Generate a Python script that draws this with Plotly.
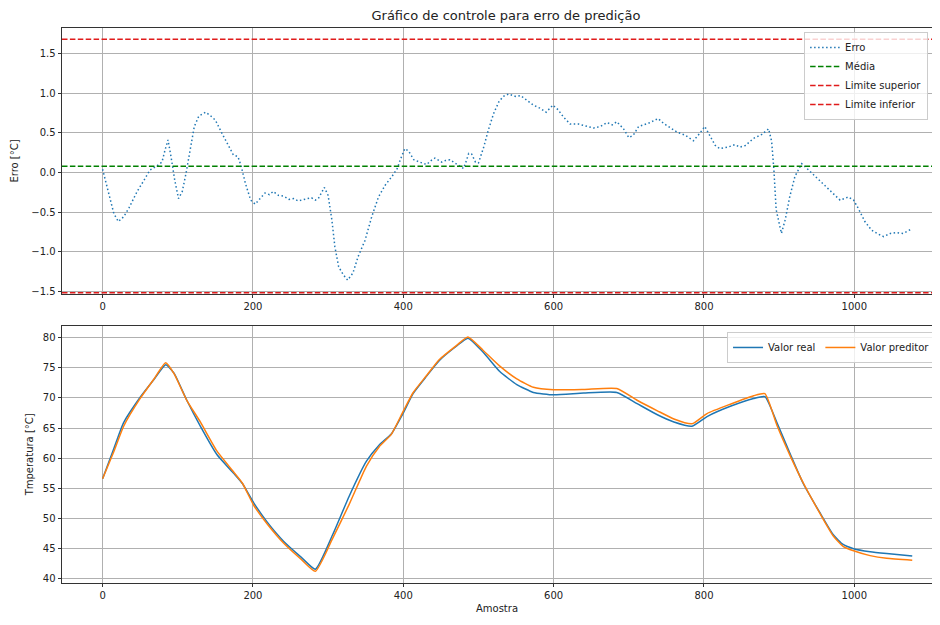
import plotly.graph_objects as go
from plotly.subplots import make_subplots

# ---------------- data ----------------
amostra_erro = [0, 8, 15, 21, 28, 35, 46, 55, 63, 72, 79, 83, 87, 91, 96, 101, 106, 111,
                117, 122, 128, 137, 143, 150, 159, 168, 174, 180, 184, 190, 197, 203, 210,
                216, 222, 227, 234, 241, 248, 254, 260, 267, 273, 278, 283, 287, 291, 295,
                300, 305, 309, 314, 320, 326, 333, 340, 349, 358, 367, 376, 385, 392, 396,
                402, 407, 414, 422, 431, 437, 442, 451, 456, 462, 468, 473, 480, 484, 487,
                491, 496, 500, 507, 513, 520, 527, 533, 540, 549, 556, 564, 573, 582, 590,
                599, 606, 613, 622, 633, 644, 653, 662, 671, 678, 684, 693, 700, 706, 713,
                726, 739, 746, 755, 764, 775, 786, 795, 801, 808, 815, 821, 832, 841, 848,
                855, 866, 877, 886, 890, 893, 896, 903, 908, 914, 921, 930, 937, 948, 959,
                970, 981, 987, 992, 999, 1005, 1014, 1023, 1032, 1039, 1048, 1056, 1065, 1077]
erro = [0.04, -0.26, -0.52, -0.62, -0.56, -0.45, -0.24, -0.10, 0.03, 0.08, 0.13, 0.28, 0.41,
        0.20, -0.10, -0.33, -0.24, -0.01, 0.32, 0.58, 0.71, 0.76, 0.72, 0.66, 0.49, 0.32, 0.22,
        0.20, 0.09, -0.14, -0.35, -0.40, -0.32, -0.26, -0.28, -0.24, -0.29, -0.30, -0.34, -0.33,
        -0.36, -0.34, -0.33, -0.32, -0.35, -0.33, -0.25, -0.19, -0.29, -0.60, -0.94, -1.19,
        -1.29, -1.36, -1.27, -1.06, -0.86, -0.56, -0.31, -0.16, -0.05, 0.05, 0.16, 0.30, 0.27,
        0.16, 0.13, 0.10, 0.15, 0.18, 0.13, 0.15, 0.16, 0.12, 0.09, 0.05, 0.15, 0.24, 0.23,
        0.13, 0.12, 0.32, 0.53, 0.74, 0.89, 0.96, 0.99, 0.96, 0.97, 0.91, 0.85, 0.81, 0.76,
        0.85, 0.79, 0.70, 0.61, 0.61, 0.58, 0.56, 0.58, 0.63, 0.60, 0.64, 0.55, 0.44, 0.47,
        0.58, 0.62, 0.68, 0.62, 0.56, 0.51, 0.47, 0.40, 0.50, 0.58, 0.46, 0.34, 0.30, 0.32,
        0.35, 0.32, 0.34, 0.43, 0.48, 0.55, 0.39, 0.03, -0.47, -0.77, -0.60, -0.31, -0.05,
        0.11, 0.05, -0.05, -0.14, -0.24, -0.35, -0.33, -0.31, -0.35, -0.45, -0.62, -0.73,
        -0.78, -0.81, -0.77, -0.76, -0.77, -0.71]

media = 0.078
limite_superior = 1.68
limite_inferior = -1.52

amostra_temp = [0, 15, 28, 50, 68, 84, 95, 112, 130, 152, 175, 186, 201, 219, 241, 264, 283,
                306, 328, 351, 368, 384, 400, 413, 431, 448, 471, 486, 506, 528, 551, 573, 600,
                640, 684, 711, 738, 760, 784, 804, 835, 866, 881, 897, 915, 932, 954, 972, 985,
                999, 1021, 1043, 1077]
valor_real = [56.6, 61.6, 65.9, 70.1, 73.0, 75.5, 74.1, 69.6, 65.3, 60.6, 57.4, 55.8, 52.6,
              49.4, 46.2, 43.6, 41.6, 47.3, 53.7, 59.5, 62.2, 64.0, 67.5, 70.7, 73.6, 76.2,
              78.6, 79.9, 77.6, 74.4, 72.2, 70.9, 70.5, 70.8, 70.9, 69.05, 67.2, 66.0, 65.3,
              66.9, 68.6, 69.9, 70.2, 65.9, 60.6, 55.8, 51.0, 47.3, 45.7, 45.0, 44.5, 44.2, 43.8]
valor_predito = [56.6, 61.1, 65.3, 69.9, 73.05, 75.8, 74.0, 69.6, 66.0, 61.2, 57.6, 55.85, 52.2,
                 49.1, 45.9, 43.25, 41.25, 46.7, 52.35, 58.7, 61.9, 63.95, 67.8, 70.85, 73.7,
                 76.35, 78.7, 80.1, 77.9, 75.3, 73.15, 71.75, 71.35, 71.4, 71.55, 69.6, 67.85,
                 66.5, 65.7, 67.4, 68.95, 70.35, 70.7, 65.45, 60.3, 55.9, 50.9, 47.1, 45.4, 44.65,
                 43.85, 43.4, 43.1]

x_ticks = [0, 200, 400, 600, 800, 1000]
y1_ticks = [-1.5, -1.0, -0.5, 0.0, 0.5, 1.0, 1.5]
y2_ticks = [40, 45, 50, 55, 60, 65, 70, 75, 80]

# ---------------- figure ----------------
W, H = 924, 609
fig = make_subplots(rows=2, cols=1)

DOT = "1.5px,2.5px"
DASH = "5.5px,2.4px"

fig.add_trace(go.Scatter(x=amostra_erro, y=erro, mode="lines", name="Erro",
                         line=dict(color="#1f77b4", width=1.5, dash=DOT),
                         legend="legend"), row=1, col=1)

for val, nm, col in [(media, "Média", "#008000"),
                     (limite_superior, "Limite superior", "#e01b1b"),
                     (limite_inferior, "Limite inferior", "#e01b1b")]:
    fig.add_hline(y=val, row=1, col=1, line=dict(color=col, width=1.5, dash=DASH),
                  showlegend=True, name=nm, legend="legend", layer="above")

fig.add_trace(go.Scatter(x=amostra_temp, y=valor_real, mode="lines", name="Valor real",
                         line=dict(color="#1f77b4", width=1.5, shape="spline", smoothing=0.5),
                         legend="legend2"), row=2, col=1)
fig.add_trace(go.Scatter(x=amostra_temp, y=valor_predito, mode="lines", name="Valor preditor",
                         line=dict(color="#ff7f0e", width=1.5, shape="spline", smoothing=0.5),
                         legend="legend2"), row=2, col=1)

axis_common = dict(showgrid=True, gridcolor="#b0b0b0", gridwidth=0.8, zeroline=False,
                   showline=True, linecolor="#333333", linewidth=0.8,
                   ticks="outside", ticklen=3.5, tickwidth=0.8, tickcolor="#333333",
                   tickfont=dict(size=10, color="#222222"), automargin=False)

fig.update_layout(
    width=W, height=H,
    margin=dict(l=54, r=0, t=20, b=34, autoexpand=False),
    plot_bgcolor="white", paper_bgcolor="white",
    font=dict(family="DejaVu Sans", size=10, color="#222222"),
    title=dict(text="Gráfico de controle para erro de predição", x=0.5103, xref="paper",
               xanchor="center", y=1 - 7.5 / H, yref="container", yanchor="middle",
               font=dict(size=13, color="#222222")),
    xaxis=dict(domain=[0, 1], range=[-54, 1103.3], tickvals=x_ticks, mirror=True, **axis_common),
    yaxis=dict(domain=[0.5207, 1], range=[-1.535, 1.823], tickvals=y1_ticks, tickformat=".1f",
               title=dict(text="Erro [°C]", standoff=10, font=dict(size=10)), **axis_common),
    xaxis2=dict(domain=[0, 1], range=[-54, 1103.3], tickvals=x_ticks, mirror=True,
                title=dict(text="Amostra", standoff=4, font=dict(size=10)), **axis_common),
    yaxis2=dict(domain=[0, 0.4636], range=[39.31, 81.96], tickvals=y2_ticks,
                title=dict(text="Tmperatura [°C]", standoff=7, font=dict(size=10)), **axis_common),
    legend=dict(x=0.853, y=0.993, xanchor="left", yanchor="top",
                bgcolor="rgba(255,255,255,0.8)", bordercolor="#cccccc", borderwidth=1,
                font=dict(size=10), itemwidth=30, tracegroupgap=0),
    legend2=dict(orientation="h", x=0.7644, y=0.4523, xanchor="left", yanchor="top",
                 bgcolor="rgba(255,255,255,0.8)", bordercolor="#cccccc", borderwidth=1,
                 font=dict(size=10), itemwidth=30),
)

fig.write_html("out.html")
